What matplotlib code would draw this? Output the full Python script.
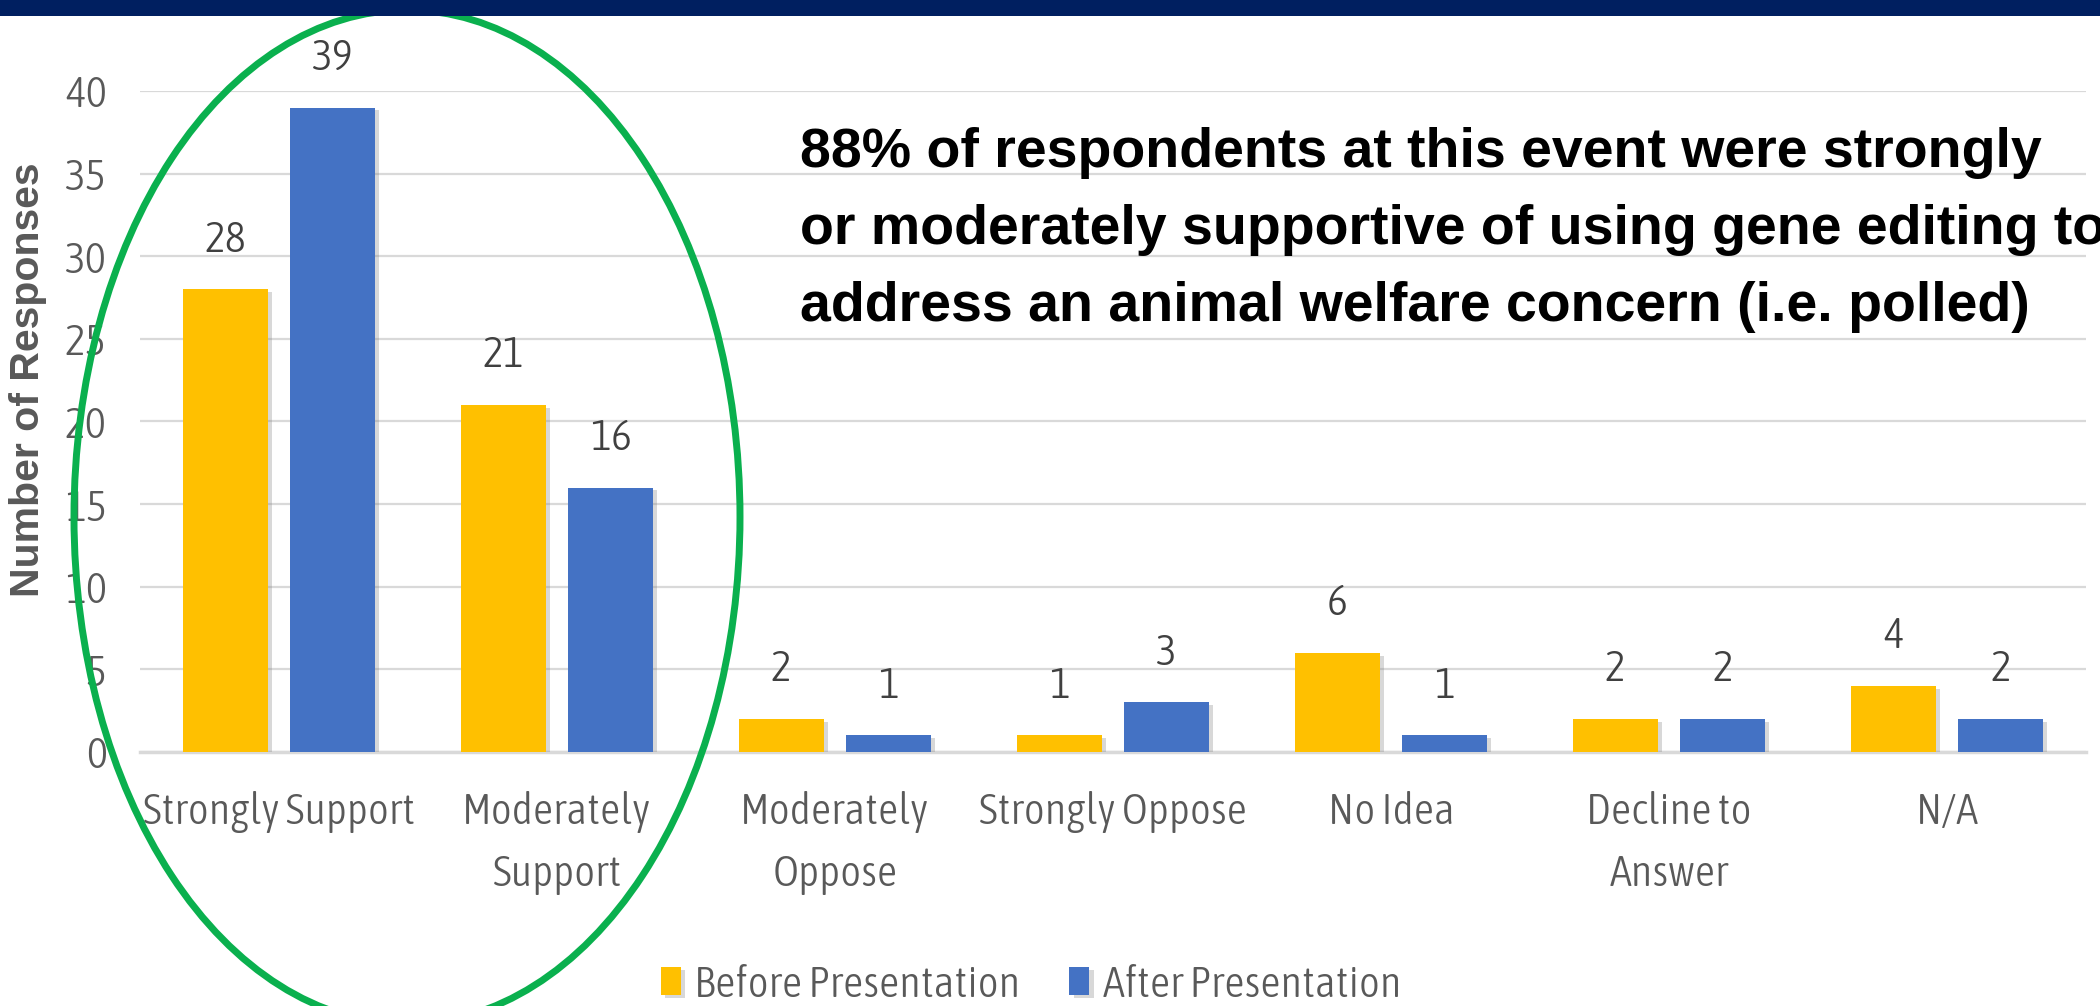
import numpy as np
import matplotlib
matplotlib.use("Agg")
import matplotlib.pyplot as plt
import matplotlib.font_manager as fm
from matplotlib.patches import Ellipse, Rectangle
import matplotlib.patheffects as pe

# survey counts per answer
categories = ["Strongly Support", "Moderately\nSupport", "Moderately\nOppose",
              "Strongly Oppose", "No Idea", "Decline to\nAnswer", "N/A"]
before = [28, 21, 2, 1, 6, 2, 4]
after = [39, 16, 1, 3, 1, 2, 2]
series_names = ["Before Presentation", "After Presentation"]
y_ticks = [0, 5, 10, 15, 20, 25, 30, 35, 40]
note_lines = ["88% of respondents at this event were strongly",
              "or moderately supportive of using gene editing to",
              "address an animal welfare concern (i.e. polled)"]


def weight_num(w):
    if isinstance(w, (int, float)):
        return int(w)
    return fm.weight_dict.get(str(w).lower(), 400)


# light/regular narrow face for the grey chart text, Lato if none is around
narrow = {}
for f in fm.fontManager.ttflist:
    if "Condensed" in f.name or "Narrow" in f.name:
        narrow.setdefault(f.name, set()).add(weight_num(f.weight))
choices = sorted((min(ws, key=lambda w: abs(w - 330)), name) for name, ws in narrow.items()
                 if any(280 <= w <= 400 for w in ws))
choices = [c for c in choices if 280 <= c[0] <= 400]
if choices:
    label_weight, label_font = choices[0]
    k = 1.0
else:
    label_weight, label_font = 400, "Lato"
    k = 0.9
plt.rcParams["font.family"] = [label_font, "DejaVu Sans"]
plt.rcParams["font.weight"] = label_weight

fs = 32 * k
grey = "#595959"

W, H = 2100, 1006
fig = plt.figure(figsize=(W / 100, H / 100), dpi=100)
fig.patch.set_facecolor("white")

# plot area in pixels: left 140, right 2086, top 91, bottom 752
ax = fig.add_axes([140 / W, 1 - 752 / H, (2086 - 140) / W, (752 - 91) / H])

x = np.arange(len(categories))
bw = 0.306
off = 0.193
shadow = [pe.SimplePatchShadow(offset=(3, -2), shadow_rgbFace="#808080", alpha=0.3), pe.Normal()]
b1 = ax.bar(x - off, before, bw, color="#FFC000", label=series_names[0], zorder=3)
b2 = ax.bar(x + off, after, bw, color="#4472C4", label=series_names[1], zorder=3)
for bars in (b1, b2):
    for r in bars:
        r.set_path_effects(shadow)

# value labels above bars
for xs, vals in ((x - off, before), (x + off, after)):
    for xi, v in zip(xs, vals):
        ax.text(xi, v + 3.0, str(v), ha="center", va="center", fontsize=fs,
                color="#404040", clip_on=False)

ax.set_xlim(-0.5, len(categories) - 0.5)
ax.set_ylim(0, 40)
ax.set_yticks(y_ticks)
ax.set_xticks(x)
ax.set_xticklabels(categories, fontsize=fs, color=grey, linespacing=1.6)
ax.tick_params(axis="y", labelsize=fs, labelcolor=grey, length=0, pad=24)
ax.tick_params(axis="x", length=0, pad=28)
ax.yaxis.grid(True, color="#D9D9D9", lw=1.6, zorder=0)
ax.set_axisbelow(True)
for s in ("top", "right", "left"):
    ax.spines[s].set_visible(False)
ax.spines["bottom"].set_color("#D9D9D9")
ax.spines["bottom"].set_linewidth(2.5)
ax.set_facecolor("none")

fig.text(28 / W, 1 - 380 / H, "Number of Responses", rotation=90, ha="center", va="center",
         fontsize=29.5, fontweight="bold", color=grey,
         family=["Liberation Sans", "DejaVu Sans"])

# legend along the bottom edge
fig.legend(handles=[b1, b2], labels=series_names, loc="center", bbox_to_anchor=(0.491, 1 - 985 / H),
           ncol=2, frameon=False, fontsize=fs, handlelength=0.45, handleheight=0.6,
           handletextpad=0.3, columnspacing=1.1, labelcolor=grey)

# callout text
for i, line in enumerate(note_lines):
    fig.text(800 / W, 1 - (167 + 77 * i) / H, line, ha="left", va="baseline",
             fontsize=40, fontweight="bold", color="black",
             family=["Liberation Sans", "DejaVu Sans"])

# green ring around the support answers
ring = Ellipse((407 / W, 1 - 517 / H), 666 / W, 1014 / H, transform=fig.transFigure,
               fill=False, edgecolor="#0AB04E", lw=5, zorder=10)
fig.add_artist(ring)

# navy band at the top
fig.add_artist(Rectangle((0, 1 - 16 / H), 1, 16 / H, transform=fig.transFigure,
                         facecolor="#001F60", edgecolor="none", zorder=11))

fig.savefig("out.png", dpi=100)
